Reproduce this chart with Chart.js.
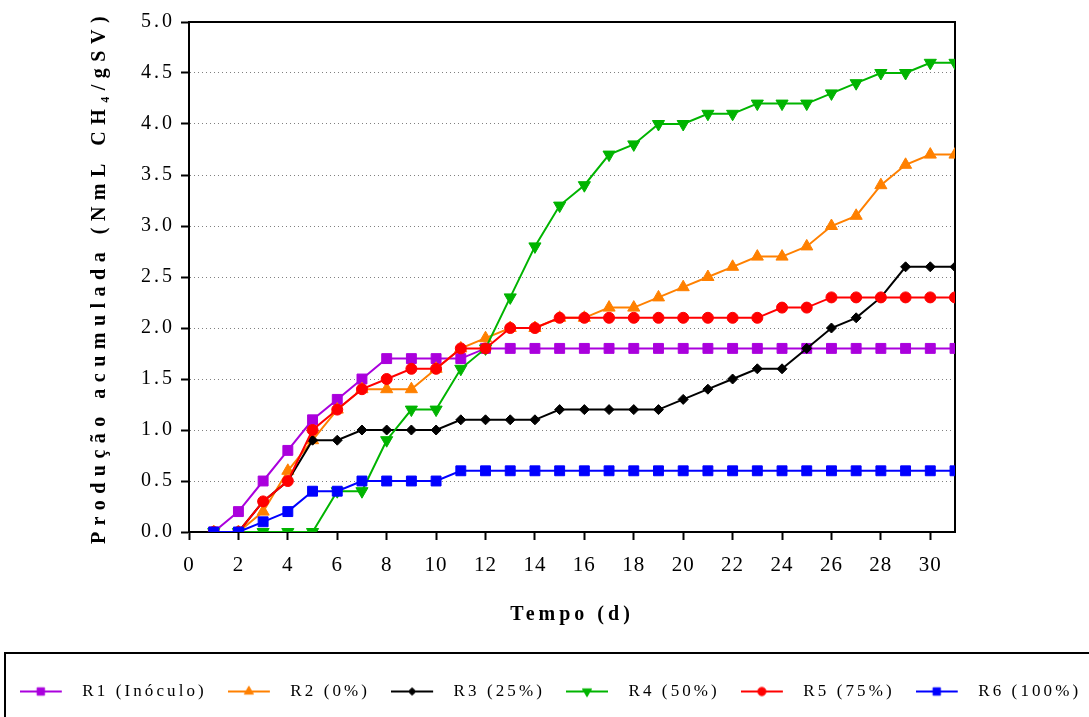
<!DOCTYPE html>
<html>
<head>
<meta charset="utf-8">
<title>Produção acumulada</title>
<script src="https://cdn.jsdelivr.net/npm/chart.js@4.4.1/dist/chart.umd.min.js"></script>
<style>
  html, body { margin: 0; padding: 0; background: #fff; }
</style>
</head>
<body>
<canvas id="grafico" width="1089" height="717"></canvas>
<script>
// DADOS
const dias = [1, 2, 3, 4, 5, 6, 7, 8, 9, 10, 11, 12, 13, 14, 15, 16, 17, 18, 19, 20, 21, 22, 23, 24, 25, 26, 27, 28, 29, 30, 31];

const r1 = [0, 0.2, 0.5, 0.8, 1.1, 1.3, 1.5, 1.7, 1.7, 1.7, 1.7, 1.8, 1.8, 1.8, 1.8, 1.8, 1.8, 1.8, 1.8, 1.8, 1.8, 1.8, 1.8, 1.8, 1.8, 1.8, 1.8, 1.8, 1.8, 1.8, 1.8];
const r2 = [0, 0, 0.2, 0.6, 0.9, 1.2, 1.4, 1.4, 1.4, 1.6, 1.8, 1.9, 2.0, 2.0, 2.1, 2.1, 2.2, 2.2, 2.3, 2.4, 2.5, 2.6, 2.7, 2.7, 2.8, 3.0, 3.1, 3.4, 3.6, 3.7, 3.7];
const r3 = [0, 0, 0.3, 0.5, 0.9, 0.9, 1.0, 1.0, 1.0, 1.0, 1.1, 1.1, 1.1, 1.1, 1.2, 1.2, 1.2, 1.2, 1.2, 1.3, 1.4, 1.5, 1.6, 1.6, 1.8, 2.0, 2.1, 2.3, 2.6, 2.6, 2.6];
const r4 = [0, 0, 0, 0, 0, 0.4, 0.4, 0.9, 1.2, 1.2, 1.6, 1.8, 2.3, 2.8, 3.2, 3.4, 3.7, 3.8, 4.0, 4.0, 4.1, 4.1, 4.2, 4.2, 4.2, 4.3, 4.4, 4.5, 4.5, 4.6, 4.6];
const r5 = [0, 0, 0.3, 0.5, 1.0, 1.2, 1.4, 1.5, 1.6, 1.6, 1.8, 1.8, 2.0, 2.0, 2.1, 2.1, 2.1, 2.1, 2.1, 2.1, 2.1, 2.1, 2.1, 2.2, 2.2, 2.3, 2.3, 2.3, 2.3, 2.3, 2.3];
const r6 = [0, 0, 0.1, 0.2, 0.4, 0.4, 0.5, 0.5, 0.5, 0.5, 0.6, 0.6, 0.6, 0.6, 0.6, 0.6, 0.6, 0.6, 0.6, 0.6, 0.6, 0.6, 0.6, 0.6, 0.6, 0.6, 0.6, 0.6, 0.6, 0.6, 0.6];

const nomes = ['R1 (Inóculo)', 'R2 (0%)', 'R3 (25%)', 'R4 (50%)', 'R5 (75%)', 'R6 (100%)'];
const ticksX = [0, 2, 4, 6, 8, 10, 12, 14, 16, 18, 20, 22, 24, 26, 28, 30];
const ticksY = [0, 0.5, 1.0, 1.5, 2.0, 2.5, 3.0, 3.5, 4.0, 4.5, 5.0];

const series = [r1, r2, r3, r4, r5, r6];

// ESTILOS
const fonte = "'Liberation Serif', 'Times New Roman', serif";
const estilos = [
    { cor: '#aa00dd', ponto: 'rect', raio: 7, rot: 0 },
    { cor: '#ff8000', ponto: 'triangle', raio: 7, rot: 0 },
    { cor: '#000000', ponto: 'rectRot', raio: 5, rot: 0 },
    { cor: '#00b400', ponto: 'triangle', raio: 7, rot: 180 },
    { cor: '#ff0000', ponto: 'circle', raio: 5.5, rot: 0 },
    { cor: '#0000ff', ponto: 'rect', raio: 7, rot: 0 }
];

// espacamento entre letras de cada texto
const espacoLegenda = '3.1px';
const espacos = {
    x: { ticks: '1px', title: '4px' },
    y: { ticks: '3px', title: '6.5px' }
};

// simbolo da legenda: linha com o marcador no meio
function simbolo(e) {
    const c = document.createElement('canvas');
    c.width = 54;
    c.height = 16;
    const g = c.getContext('2d');
    g.strokeStyle = e.cor;
    g.fillStyle = e.cor;
    g.lineWidth = 2;
    g.beginPath();
    g.moveTo(0, 8);
    g.lineTo(42, 8);
    g.stroke();
    g.lineWidth = 1;
    Chart.helpers.drawPoint(g, { pointStyle: e.ponto, radius: e.raio * 0.75, rotation: e.rot, borderWidth: 1 }, 21, 8);
    return c;
}
const simbolos = estilos.map(simbolo);

const espacamento = {
    id: 'espacamento',
    afterInit(chart) {
        const leg = chart.legend;
        const fitOrig = leg.fit;
        leg.fit = function () {
            // todos os itens numa linha so
            const larg = this.maxWidth;
            this.maxWidth = larg + 100;
            this.ctx.save();
            this.ctx.letterSpacing = espacoLegenda;
            fitOrig.call(this);
            this.ctx.restore();
            this.maxWidth = larg;
            this.width = larg;
            if (this.isHorizontal()) this.height = 65;
        };
        const drawOrig = leg.draw;
        leg.draw = function () {
            const ctx = this.ctx;
            ctx.save();
            ctx.lineWidth = 2;
            ctx.strokeStyle = '#000';
            ctx.strokeRect(5, this.top + 1, chart.width + 20, 100);
            // margem extra a direita para nao quebrar a linha
            this.right += 40;
            ctx.translate(-14, 10);
            ctx.letterSpacing = espacoLegenda;
            drawOrig.call(this);
            this.right -= 40;
            ctx.restore();
        };
    },
    beforeDraw(chart) {
        Object.entries(espacos).forEach(([id, esp]) => {
            const s = chart.scales[id];
            if (!s || s._espacado) return;
            s._espacado = true;
            const labelsOrig = s.drawLabels;
            const tituloOrig = s.drawTitle;
            s.drawLabels = function (area) {
                this.ctx.save();
                this.ctx.letterSpacing = esp.ticks;
                labelsOrig.call(this, area);
                this.ctx.restore();
            };
            s.drawTitle = function () {
                this.ctx.save();
                this.ctx.letterSpacing = esp.title;
                tituloOrig.call(this);
                this.ctx.restore();
            };
        });
    }
};

const conjuntos = nomes.map((nome, i) => ({
    label: nome,
    data: series[i],
    borderColor: estilos[i].cor,
    backgroundColor: estilos[i].cor,
    borderWidth: 2,
    pointStyle: estilos[i].ponto,
    pointRadius: estilos[i].raio,
    pointRotation: estilos[i].rot,
    pointBorderWidth: 1,
    tension: 0,
    order: 6 - i
}));

const grafico = new Chart(document.getElementById('grafico'), {
    type: 'line',
    data: {
        labels: dias,
        datasets: conjuntos
    },
    plugins: [espacamento],
    options: {
        responsive: false,
        animation: false,
        events: [],
        layout: { padding: 0 },
        scales: {
            x: {
                type: 'linear',
                position: 'bottom',
                min: 0,
                max: 31,
                afterBuildTicks: s => { s.ticks = ticksX.map(v => ({ value: v })); },
                afterFit: s => { s.height = 120; },
                grid: { drawOnChartArea: false, drawTicks: true, tickLength: 8, tickWidth: 2, tickColor: '#000' },
                border: { display: true, color: '#000', width: 2 },
                ticks: { color: '#000', font: { family: fonte, size: 21 }, padding: 13, maxRotation: 0, autoSkip: false },
                title: {
                    display: true,
                    text: 'Tempo (d)',
                    color: '#000',
                    font: { family: fonte, size: 20, weight: 'bold' },
                    padding: { top: 0, bottom: 25 }
                }
            },
            y: {
                type: 'linear',
                position: 'left',
                min: 0,
                max: 5,
                afterBuildTicks: s => { s.ticks = ticksY.map(v => ({ value: v })); },
                afterFit: s => { s.width = 189; },
                grid: { color: '#808080', lineWidth: 1, drawTicks: true, tickLength: 8, tickWidth: 2, tickColor: '#000', tickBorderDash: [] },
                border: { display: true, color: '#000', width: 2, dash: [1, 3] },
                ticks: { color: '#000', font: { family: fonte, size: 20 }, padding: 6, callback: v => v.toFixed(1) },
                title: {
                    display: true,
                    text: 'Produção acumulada (NmL CH₄/gSV)',
                    color: '#000',
                    font: { family: fonte, size: 20, weight: 'bold' },
                    padding: 88
                }
            },
            topo: {
                type: 'linear',
                position: 'top',
                min: 0,
                max: 31,
                afterFit: s => { s.height = 22; },
                grid: { display: false },
                ticks: { display: false },
                border: { display: true, color: '#000', width: 2 }
            },
            direita: {
                type: 'linear',
                position: 'right',
                min: 0,
                max: 5,
                afterFit: s => { s.width = 134; },
                grid: { display: false },
                ticks: { display: false },
                border: { display: true, color: '#000', width: 2 }
            }
        },
        plugins: {
            tooltip: { enabled: false },
            legend: {
                position: 'bottom',
                align: 'center',
                labels: {
                    usePointStyle: true,
                    pointStyleWidth: 54,
                    padding: 21,
                    color: '#000',
                    font: { family: fonte, size: 17 },
                    generateLabels: chart => chart.data.datasets.map((ds, i) => ({
                        text: ds.label,
                        pointStyle: simbolos[i],
                        datasetIndex: i,
                        hidden: false,
                        lineWidth: 0,
                        fillStyle: ds.borderColor,
                        strokeStyle: ds.borderColor,
                        fontColor: '#000'
                    }))
                }
            }
        }
    }
});
</script>
</body>
</html>
